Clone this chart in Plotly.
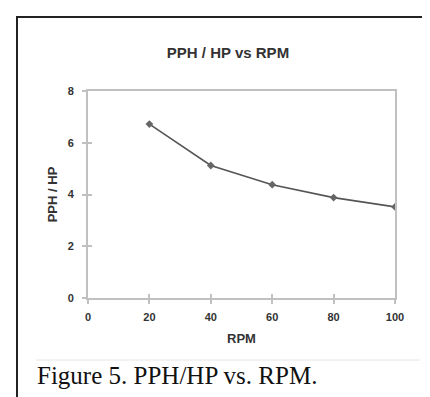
import plotly.graph_objects as go

W, H = 430, 397

rpm = [20, 40, 60, 80, 100]
pph_per_hp = [6.72, 5.12, 4.38, 3.88, 3.52]
x_ticks = [0, 20, 40, 60, 80, 100]
y_ticks = [0, 2, 4, 6, 8]

chart_title = "PPH / HP vs RPM"
x_title = "RPM"
y_title = "PPH / HP"
caption = "Figure 5. PPH/HP vs. RPM."


def px(x):
    return x / W


def py(y):
    return 1 - y / H


fig = go.Figure()
fig.add_trace(go.Scatter(
    x=rpm, y=pph_per_hp, mode="lines+markers",
    line=dict(color="#555555", width=1.6),
    marker=dict(symbol="diamond", size=6, color="#666666"),
    showlegend=False,
))

axis_font = dict(family="Liberation Sans, Arial, sans-serif", size=11, color="#333333")
title_font = dict(family="Liberation Sans, Arial, sans-serif", size=13, color="#333333")
xdom = [px(80), px(387)]
ydom = [py(290), py(83)]

fig.update_layout(
    width=W, height=H,
    margin=dict(l=0, r=0, t=0, b=0),
    paper_bgcolor="white", plot_bgcolor="white",
    title=dict(text="<b>" + chart_title + "</b>", x=px(220), y=py(45),
               xanchor="center", yanchor="middle",
               font=dict(family="Liberation Sans, Arial, sans-serif", size=15, color="#333333")),
    xaxis=dict(
        domain=xdom, range=[0, 100],
        tickvals=x_ticks, ticktext=["<b>%d</b>" % v for v in x_ticks],
        tickfont=axis_font, ticks="outside", ticklen=4, tickwidth=2, tickcolor="#c0c0c0",
        showline=True, linecolor="#c0c0c0", linewidth=2, mirror=True,
        showgrid=False, zeroline=False, automargin=False,
        ticklabelstandoff=4,
        title=dict(text="<b>" + x_title + "</b>", font=title_font, standoff=12),
    ),
    yaxis=dict(
        domain=ydom, range=[0, 8],
        tickvals=y_ticks, ticktext=["<b>%d</b>" % v for v in y_ticks],
        tickfont=axis_font, ticks="outside", ticklen=4, tickwidth=2, tickcolor="#c0c0c0",
        showline=True, linecolor="#c0c0c0", linewidth=2, mirror=True,
        showgrid=False, zeroline=False, automargin=False,
        ticklabelstandoff=6,
        title=dict(text="<b>" + y_title + "</b>", font=title_font, standoff=7),
    ),
    xaxis2=dict(
        domain=xdom, range=[0, 100], overlaying="x", anchor="y",
        tickvals=x_ticks, showticklabels=False,
        ticks="inside", ticklen=4, tickwidth=2, tickcolor="#c0c0c0",
        showline=False, showgrid=False, zeroline=False,
    ),
    yaxis2=dict(
        domain=ydom, range=[0, 8], overlaying="y", anchor="x",
        tickvals=y_ticks, showticklabels=False,
        ticks="inside", ticklen=4, tickwidth=2, tickcolor="#c0c0c0",
        showline=False, showgrid=False, zeroline=False,
    ),
)

fig.add_trace(go.Scatter(x=[None], y=[None], xaxis="x2", yaxis="y2",
                         showlegend=False, hoverinfo="skip"))

fig.add_annotation(
    text=caption, xref="paper", yref="paper", x=px(27), y=py(367),
    xanchor="left", yanchor="middle", showarrow=False,
    font=dict(family="Liberation Serif, Times New Roman, serif", size=25, color="#111111"),
)

fig.add_shape(type="line", xref="paper", yref="paper",
              x0=px(28), x1=px(412), y0=py(352), y1=py(352),
              line=dict(color="#e6e6e6", width=1))
fig.add_shape(type="rect", xref="paper", yref="paper",
              x0=px(9), x1=px(445), y0=py(9), y1=py(410),
              line=dict(color="#222222", width=2))

fig.write_html("out.html")
